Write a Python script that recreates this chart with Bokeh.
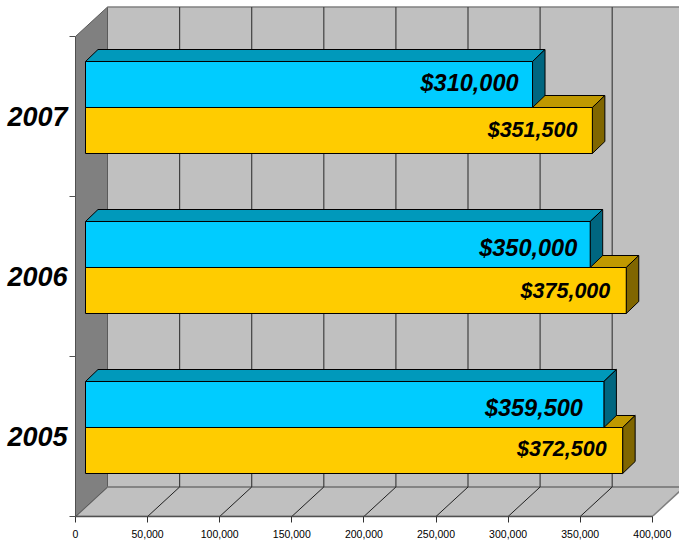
from bokeh.plotting import figure
from bokeh.models import Range1d, FixedTicker, NumeralTickFormatter, ColumnDataSource
from bokeh.core.properties import value
from bokeh.embed import file_html
from bokeh.resources import INLINE

years = ["2005", "2006", "2007"]
blue_values = [359500, 350000, 310000]
gold_values = [372500, 375000, 351500]
x_ticks = [0, 50000, 100000, 150000, 200000, 250000, 300000, 350000, 400000]

FONT = "Liberation Sans"
PX_X = 50000 / 72.1      # value units per pixel
PX_Y = 1 / 160.0         # category units per pixel
W, H = 679, 546
LEFT, BOTTOM = 75, 30
BACK_X, BACK_Y = 32 * PX_X, 29.5 * PX_Y
TOP_Y = 3.0

p = figure(width=W, height=H, output_backend="svg", toolbar_location=None,
           x_range=Range1d(0, (W - LEFT) * PX_X),
           y_range=Range1d(0, (H - BOTTOM) * PX_Y),
           min_border_left=LEFT, min_border_bottom=BOTTOM,
           min_border_top=0, min_border_right=0,
           styles={"position": "absolute", "left": "0px", "top": "0px"})
p.outline_line_color = None
p.grid.visible = False
p.background_fill_color = "white"

# walls and floor
xmax = x_ticks[-1]
wall = "#c0c0c0"
edge = "#808080"
p.patch([BACK_X, xmax * 2, xmax * 2, BACK_X],
        [BACK_Y, BACK_Y, TOP_Y + BACK_Y, TOP_Y + BACK_Y], fill_color=wall, line_color=None)
p.patch([0, BACK_X, xmax + BACK_X, xmax], [0, BACK_Y, BACK_Y, 0],
        fill_color=wall, line_color=edge, line_width=1.5)
p.patch([0, BACK_X, BACK_X, 0], [0, BACK_Y, TOP_Y + BACK_Y, TOP_Y],
        fill_color="#808080", line_color="#5a5a5a", line_width=1)
p.line([BACK_X, xmax * 2], [TOP_Y + BACK_Y] * 2, line_color=edge, line_width=1.5)
p.line([BACK_X, xmax * 2], [BACK_Y] * 2, line_color=edge, line_width=1.5)

for t in x_ticks[1:-1]:
    p.line([t + BACK_X, t + BACK_X], [BACK_Y, TOP_Y + BACK_Y], line_color="#404040", line_width=1.2)
    p.line([t, t + BACK_X], [0, BACK_Y], line_color="#202020", line_width=1)

# 3D bars
START_X, START_Y = 10 * PX_X, 9 * PX_Y
DEPTH_X, DEPTH_Y = 12.5 * PX_X, 12 * PX_Y
THICK = 46 * PX_Y


def bars(values, base, front, top, side):
    fx, fy, tx, ty, sx, sy = [], [], [], [], [], []
    for i, v in enumerate(values):
        x0, x1 = START_X, START_X + v
        y0 = i + 0.5 + START_Y + base
        y1 = y0 + THICK
        fx.append([x0, x1, x1, x0]); fy.append([y0, y0, y1, y1])
        tx.append([x0, x1, x1 + DEPTH_X, x0 + DEPTH_X]); ty.append([y1, y1, y1 + DEPTH_Y, y1 + DEPTH_Y])
        sx.append([x1, x1 + DEPTH_X, x1 + DEPTH_X, x1]); sy.append([y0, y0 + DEPTH_Y, y1 + DEPTH_Y, y1])
    for xs, ys, c in ((tx, ty, top), (sx, sy, side), (fx, fy, front)):
        p.patches(xs, ys, fill_color=c, line_color="black", line_width=1)


bars(gold_values, -THICK, "#ffcc00", "#c09900", "#806600")
bars(blue_values, 0, "#00ccff", "#0099bb", "#006680")


def labels(values, base, xoffs, yoffs, size):
    src = ColumnDataSource(dict(
        x=[START_X + v for v in values],
        y=[i + 0.5 + START_Y + base + THICK / 2 for i in range(len(values))],
        t=["${:,}".format(v) for v in values],
        xo=xoffs, yo=yoffs))
    p.text("x", "y", text="t", source=src, x_offset="xo", y_offset="yo",
           text_align="right", text_baseline="middle", text_color="black",
           text_font=value(FONT), text_font_size=size, text_font_style="bold italic")


labels(gold_values, -THICK, [-16, -16, -15], [-2, 0, -1], "21.5px")
labels(blue_values, 0, [-21, -13, -14], [3, 3, -2], "23.5px")

# axes
ax = p.xaxis[0]
ax.ticker = FixedTicker(ticks=x_ticks)
ax.formatter = NumeralTickFormatter(format="0,0")
ax.bounds = (0, xmax)
ax.axis_line_color = "#505050"
ax.axis_line_width = 1.5
ax.major_tick_in = 0
ax.major_tick_out = 6
ax.major_tick_line_color = "#303030"
ax.minor_tick_line_color = None
ax.major_label_standoff = 7
ax.major_label_text_font = FONT
ax.major_label_text_font_size = "10.5px"
ax.major_label_text_color = "black"

ay = p.yaxis[0]
ay.ticker = FixedTicker(ticks=[0.5, 1.5, 2.5], minor_ticks=[0, 1, 2, 3])
ay.major_label_overrides = {i + 0.5: y for i, y in enumerate(years)}
ay.bounds = (0, TOP_Y)
ay.axis_line_color = "#505050"
ay.major_tick_line_color = None
ay.major_tick_out = 0
ay.major_tick_in = 0
ay.minor_tick_out = 6
ay.minor_tick_in = 0
ay.minor_tick_line_color = "#505050"
ay.major_label_standoff = 2
ay.major_label_text_font = FONT
ay.major_label_text_font_size = "27px"
ay.major_label_text_font_style = "bold italic"
ay.major_label_text_color = "black"

open("out.html", "w").write(file_html(p, INLINE))
